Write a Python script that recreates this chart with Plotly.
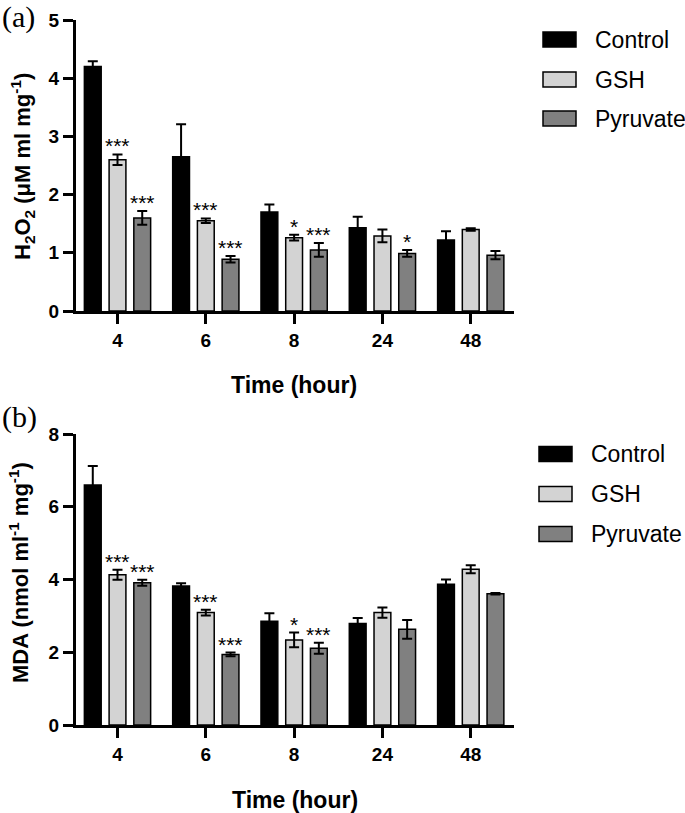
import plotly.graph_objects as go

# ---------------- data ----------------
times = ["4", "6", "8", "24", "48"]
series = ["Control", "GSH", "Pyruvate"]
colors = ["#000000", "#d3d3d3", "#808080"]

h2o2_control = [4.20, 2.65, 1.70, 1.43, 1.22]
h2o2_control_err = [0.09, 0.56, 0.13, 0.19, 0.15]
h2o2_gsh = [2.60, 1.55, 1.26, 1.29, 1.40]
h2o2_gsh_err = [0.09, 0.04, 0.05, 0.11, 0.02]
h2o2_pyruvate = [1.60, 0.89, 1.05, 0.99, 0.96]
h2o2_pyruvate_err = [0.12, 0.055, 0.12, 0.06, 0.07]
h2o2_sig_gsh = ["***", "***", "*", "", ""]
h2o2_sig_pyruvate = ["***", "***", "***", "*", ""]

mda_control = [6.60, 3.82, 2.85, 2.79, 3.87]
mda_control_err = [0.52, 0.08, 0.22, 0.15, 0.13]
mda_gsh = [4.13, 3.09, 2.34, 3.09, 4.28]
mda_gsh_err = [0.14, 0.08, 0.20, 0.14, 0.11]
mda_pyruvate = [3.91, 1.94, 2.11, 2.63, 3.61]
mda_pyruvate_err = [0.08, 0.05, 0.15, 0.26, 0.02]
mda_sig_gsh = ["***", "***", "*", "", ""]
mda_sig_pyruvate = ["***", "***", "***", "", ""]

W, H = 685, 813
FONT = "Liberation Sans, Arial, sans-serif"

fig = go.Figure()

panels = [
    ("x", "y", [h2o2_control, h2o2_gsh, h2o2_pyruvate],
     [h2o2_control_err, h2o2_gsh_err, h2o2_pyruvate_err],
     [None, h2o2_sig_gsh, h2o2_sig_pyruvate]),
    ("x2", "y2", [mda_control, mda_gsh, mda_pyruvate],
     [mda_control_err, mda_gsh_err, mda_pyruvate_err],
     [None, mda_sig_gsh, mda_sig_pyruvate]),
]

annotations = []
slot_px = 24.6
for xa, ya, vals, errs, sigs in panels:
    for i, name in enumerate(series):
        fig.add_trace(go.Bar(
            x=times, y=vals[i], name=name, xaxis=xa, yaxis=ya,
            marker=dict(color=colors[i], line=dict(color="black", width=1.5)),
            error_y=dict(type="data", array=errs[i], color="black",
                         thickness=2, width=5),
            showlegend=False,
        ))
        if sigs[i] is not None:
            for j, (v, e, s) in enumerate(zip(vals[i], errs[i], sigs[i])):
                if s:
                    annotations.append(dict(
                        x=j, y=v + e, xref=xa, yref=ya, text=s,
                        showarrow=False, yanchor="bottom",
                        xshift=(i - 1) * slot_px, yshift=-5,
                        font=dict(family=FONT, size=21, color="black")))

axis_common = dict(showline=True, linewidth=3, linecolor="black",
                   ticks="outside", ticklen=10, tickwidth=3, tickcolor="black",
                   showgrid=False, zeroline=False, automargin=False,
                   tickfont=dict(family=FONT, size=19, color="black", weight="bold"))

xdom = [76 / W, 514 / W]
fig.update_layout(
    template="none",
    width=W, height=H,
    margin=dict(l=0, r=0, t=0, b=0, autoexpand=False),
    plot_bgcolor="white", paper_bgcolor="white",
    barmode="group", bargap=0.16, bargroupgap=0.32,
    xaxis=dict(domain=xdom, type="category", range=[-0.47, 4.49],
               anchor="y", **axis_common),
    yaxis=dict(domain=[(H - 311) / H, (H - 20) / H], range=[0, 5], dtick=1,
               anchor="x", **axis_common),
    xaxis2=dict(domain=xdom, type="category", range=[-0.47, 4.49],
                anchor="y2", **axis_common),
    yaxis2=dict(domain=[(H - 725) / H, (H - 434) / H], range=[0, 8], dtick=2,
                anchor="x2", **axis_common),
    showlegend=False,
)

def paper_ann(x, y, text, size, bold=False, angle=0, xanchor="center",
              family=FONT):
    return dict(x=x / W, y=1 - y / H, xref="paper", yref="paper", text=text,
                showarrow=False, xanchor=xanchor, yanchor="middle",
                textangle=angle,
                font=dict(family=family, size=size, color="black",
                          weight="bold" if bold else "normal"))

# axis titles
annotations.append(paper_ann(294, 385, "Time (hour)", 23, bold=True))
annotations.append(paper_ann(295, 800, "Time (hour)", 23, bold=True))
annotations.append(paper_ann(22, 167, "H<sub>2</sub>O<sub>2</sub> (μM ml mg<sup>-1</sup>)",
                             22, bold=True, angle=-90))
annotations.append(paper_ann(19, 573, "MDA (nmol ml<sup>-1</sup> mg<sup>-1</sup>)",
                             22, bold=True, angle=-90))
# panel labels
annotations.append(paper_ann(0, 17, "(a)", 30, xanchor="left",
                             family="Liberation Serif, Times New Roman, serif"))
annotations.append(paper_ann(0, 417, "(b)", 30, xanchor="left",
                             family="Liberation Serif, Times New Roman, serif"))

# custom legends
shapes = []
legend_specs = [(543, 593, [39.5, 79.5, 118.5]), (539, 589, [454, 494, 534])]
for box_x, text_x, ys in legend_specs:
    for name, col, yc in zip(series, colors, ys):
        shapes.append(dict(type="rect", xref="paper", yref="paper",
                           x0=box_x / W, x1=(box_x + 33) / W,
                           y0=1 - (yc + 7.5) / H, y1=1 - (yc - 7.5) / H,
                           fillcolor=col, line=dict(color="black", width=1.5)))
        annotations.append(paper_ann(text_x, yc, name, 23, xanchor="left"))

fig.update_layout(annotations=annotations, shapes=shapes)
fig.write_html("out.html",
               config={"displayModeBar": False},
               post_script="document.body.style.margin='0';"
                           "document.body.style.overflow='hidden';")
